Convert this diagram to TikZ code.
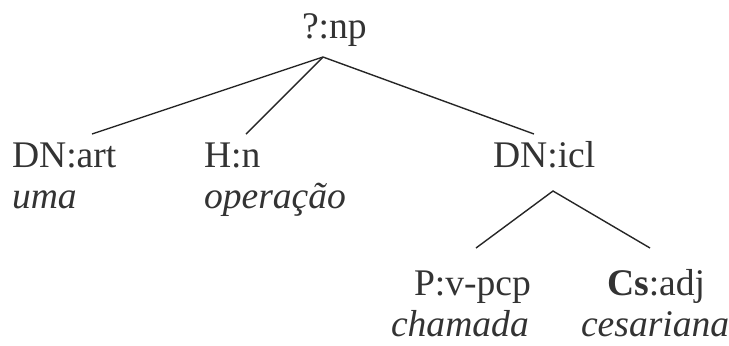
\documentclass[tikz,border=0pt]{standalone}
\usepackage{fontspec}
\setmainfont{Liberation Serif}
\begin{document}
\begin{tikzpicture}[x=0.5pt,y=-0.5pt,
  lbl/.style={anchor=base west,inner sep=0pt,outer sep=0pt,text=black!80,font=\fontsize{18.8}{22}\selectfont},
  wrd/.style={lbl,font=\fontsize{18.8}{22}\selectfont\itshape},
  edge/.style={draw=black!85,line width=0.7pt}]
\useasboundingbox (0,0) rectangle (729,345);
\node[lbl] (np) at (302,38) {?:np};
\node[lbl] (art) at (12,167) {DN:art};
\node[wrd] (uma) at (12,208) {uma};
\node[lbl] (hn) at (204,167) {H:n};
\node[wrd] (oper) at (204,208) {operação};
\node[lbl] (icl) at (493,167) {DN:icl};
\node[lbl] (pcp) at (414,295) {P:v-pcp};
\node[wrd] (cham) at (391,336) {chamada};
\node[lbl] (adj) at (607,295) {\textbf{Cs}:adj};
\node[wrd] (ces) at (581,336) {cesariana};
\coordinate (npB) at (323,57);
\coordinate (artT) at (92,134);
\coordinate (hnT) at (246,134);
\coordinate (iclT) at (534,134);
\coordinate (iclB) at (553,191);
\coordinate (pcpT) at (476,248);
\coordinate (adjT) at (650,248);
\draw[edge] (artT) -- (npB) -- (iclT);
\draw[edge] (npB) -- (hnT);
\draw[edge] (pcpT) -- (iclB) -- (adjT);
\end{tikzpicture}
\end{document}
